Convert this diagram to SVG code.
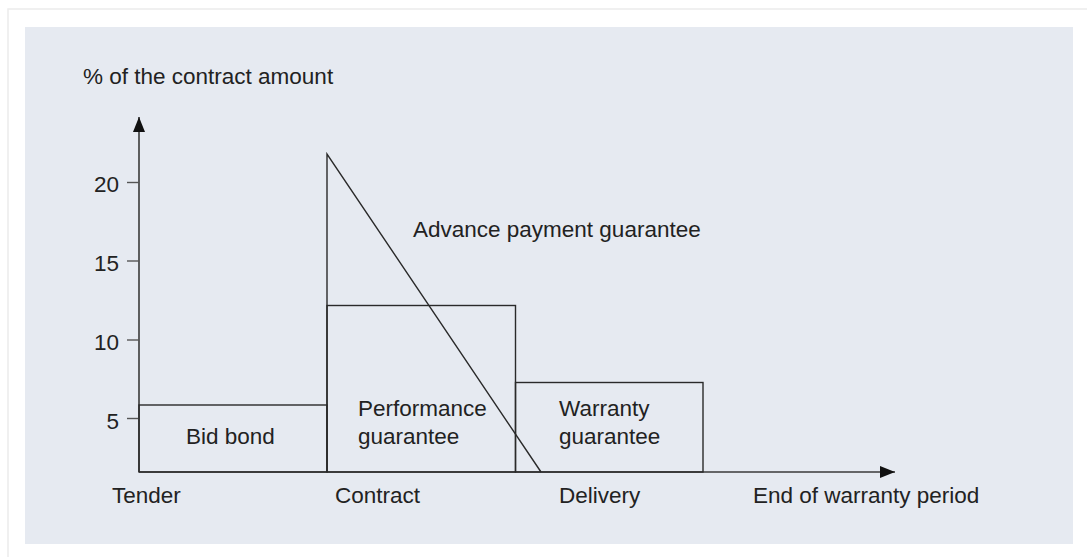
<svg xmlns="http://www.w3.org/2000/svg" width="1087" height="557" viewBox="0 0 1087 557">
  <style>
    text { font-family: "Liberation Sans", Arial, sans-serif; font-size: 22.5px; fill: #222; }
    .box { fill: none; stroke: #2a2a2a; stroke-width: 1.4; }
    .axis { fill: none; stroke: #3a3a3a; stroke-width: 1.6; }
    .tick { stroke: #555; stroke-width: 1.4; }
  </style>
  <defs>
    <marker id="arrow" viewBox="0 0 15 12" refX="15" refY="6" markerWidth="15" markerHeight="12" markerUnits="userSpaceOnUse" orient="auto">
      <path d="M0,0 L15,6 L0,12 Z" fill="#111"/>
    </marker>
  </defs>
  <rect x="0" y="0" width="1087" height="557" fill="#ffffff"/>
  <rect x="8" y="9" width="1100" height="600" fill="#ffffff" stroke="#ececec" stroke-width="1.5"/>
  <rect x="25" y="27" width="1048" height="517" fill="#e6eaf1"/>

  <text x="83" y="84">% of the contract amount</text>

  <g id="connectors">
    <line class="axis" x1="139" y1="472" x2="139" y2="117" marker-end="url(#arrow)"/>
    <line class="axis" x1="139" y1="472" x2="895" y2="472" marker-end="url(#arrow)"/>
    <line class="tick" x1="127" y1="182.5" x2="139" y2="182.5"/>
    <line class="tick" x1="127" y1="261" x2="139" y2="261"/>
    <line class="tick" x1="127" y1="340" x2="139" y2="340"/>
    <line class="tick" x1="127" y1="418.5" x2="139" y2="418.5"/>
  </g>

  <g id="ylabels">
    <text x="119" y="191.5" text-anchor="end">20</text>
    <text x="119" y="270.5" text-anchor="end">15</text>
    <text x="119" y="350" text-anchor="end">10</text>
    <text x="119" y="428.5" text-anchor="end">5</text>
  </g>

  <g id="bid-bond">
    <rect class="box" x="139" y="405" width="188" height="67"/>
    <text x="186" y="444">Bid bond</text>
  </g>

  <g id="performance-guarantee">
    <rect class="box" x="327" y="305.5" width="188.5" height="166.5"/>
    <text x="358" y="416">Performance</text>
    <text x="358" y="444">guarantee</text>
  </g>

  <g id="warranty-guarantee">
    <rect class="box" x="515.5" y="382.5" width="187.5" height="89.5"/>
    <text x="559" y="416">Warranty</text>
    <text x="559" y="444">guarantee</text>
  </g>

  <g id="advance-payment-guarantee">
    <path class="box" d="M327,472 L327,154 L541,472"/>
    <text x="413" y="236.5">Advance payment guarantee</text>
  </g>

  <g id="xlabels">
    <text x="112" y="503">Tender</text>
    <text x="335" y="503">Contract</text>
    <text x="559" y="503">Delivery</text>
    <text x="753" y="503">End of warranty period</text>
  </g>
</svg>
